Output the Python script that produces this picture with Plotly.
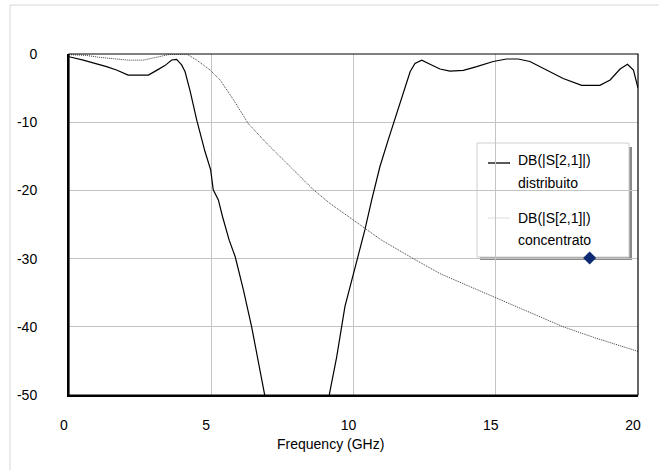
import plotly.graph_objects as go

# --- data ---
freq_dist = [0.0, 0.5, 1.32, 1.67, 2.08, 2.79, 3.08, 3.37, 3.61, 3.78, 3.96, 4.08, 4.25,
             4.49, 4.78, 4.98, 5.07, 5.25, 5.4, 5.63, 5.84, 6.13, 6.42, 6.65, 6.89,
             7.2, 8.0, 8.9,
             9.17, 9.41, 9.7, 10.0, 10.29, 10.4, 10.64, 10.93, 11.22, 11.52, 11.75, 11.99,
             12.16, 12.4, 12.69, 13.04, 13.39, 13.86, 14.33, 14.91, 15.38, 15.79, 16.2,
             16.79, 17.37, 18.02, 18.66, 19.02, 19.37, 19.63, 19.84, 20.0]
s21_dist = [-0.4, -0.9, -1.86, -2.35, -3.1, -3.1, -2.4, -1.7, -0.88, -0.78, -1.6, -2.6, -5.3,
            -9.7, -14.3, -17.0, -19.9, -21.4, -23.9, -27.3, -29.7, -34.6, -40.0, -44.9, -50.0,
            -57.0, -70.0, -56.0,
            -49.5, -44.4, -37.0, -32.2, -27.3, -25.8, -21.4, -16.5, -12.6, -8.7, -5.8, -2.6,
            -1.4, -0.9, -1.5, -2.2, -2.5, -2.4, -1.86, -1.1, -0.73, -0.73, -1.1,
            -2.4, -3.6, -4.6, -4.6, -3.8, -2.2, -1.5, -2.35, -5.0]

freq_conc = [0.0, 0.6, 1.09, 2.08, 2.61, 3.08, 3.55, 4.14, 4.49, 4.96, 5.31, 5.78, 6.3,
             6.95, 7.65, 8.59, 9.17, 10.34, 10.99, 12.1, 13.04, 14.09, 15.03, 15.97,
             17.37, 18.55, 20.0]
s21_conc = [-0.1, -0.2, -0.5, -0.9, -0.9, -0.5, -0.05, 0.0, -0.9, -2.35, -3.8, -6.7, -10.2,
            -13.1, -16.0, -19.9, -21.9, -25.3, -27.3, -30.0, -32.2, -34.1, -35.8, -37.5,
            -40.0, -41.7, -43.6]

marker_x = [18.3]
marker_y = [-29.9]

x_ticks = [0, 5, 10, 15, 20]
y_ticks = [0, -10, -20, -30, -40, -50]

legend_lines = ["DB(|S[2,1]|)", "distribuito", "DB(|S[2,1]|)", "concentrato"]
x_title = "Frequency (GHz)"

FONT = "Liberation Sans, Arial, sans-serif"

# layout geometry (pixels)
W, H = 659, 470
L, R, T, B = 69, 638, 54, 395


def px(xp):
    return (xp - L) / (R - L)


def py(yp):
    return (B - yp) / (B - T)


fig = go.Figure()
fig.add_trace(go.Scatter(x=freq_dist, y=s21_dist, mode="lines",
                         line=dict(color="black", width=1.2), showlegend=False))
fig.add_trace(go.Scatter(x=freq_conc, y=s21_conc, mode="lines",
                         line=dict(color="#3a3a3a", width=1, dash="1px,1px"), showlegend=False))
fig.add_trace(go.Scatter(x=marker_x, y=marker_y, mode="markers",
                         marker=dict(symbol="diamond", size=10, color="#0d2a72"),
                         showlegend=False, cliponaxis=False))

shapes = []
# outer light frame
shapes.append(dict(type="rect", xref="paper", yref="paper",
                   x0=px(10), x1=px(700), y0=py(520), y1=py(5),
                   line=dict(color="#d6d6d6", width=1), fillcolor="rgba(0,0,0,0)", layer="below"))
# legend shadow
shapes.append(dict(type="rect", xref="paper", yref="paper",
                   x0=px(480), x1=px(632), y0=py(260), y1=py(147),
                   line=dict(width=0), fillcolor="#8a8a8a", layer="between"))
# legend box
shapes.append(dict(type="rect", xref="paper", yref="paper",
                   x0=px(477), x1=px(629), y0=py(257), y1=py(143),
                   line=dict(color="#d0d0d0", width=1), fillcolor="white", layer="between"))
# legend samples
shapes.append(dict(type="line", xref="paper", yref="paper",
                   x0=px(488), x1=px(510), y0=py(163), y1=py(163),
                   line=dict(color="black", width=1.3), layer="between"))
shapes.append(dict(type="line", xref="paper", yref="paper",
                   x0=px(488), x1=px(510), y0=py(218), y1=py(218),
                   line=dict(color="#dcdcdc", width=1), layer="between"))
# plot frame
shapes.append(dict(type="rect", xref="paper", yref="paper", x0=0, x1=1, y0=0, y1=1,
                   line=dict(color="black", width=1.2), layer="above"))

annotations = []
for txt, yy in zip(legend_lines, [160, 183, 218, 240]):
    annotations.append(dict(text=txt, xref="paper", yref="paper", x=px(516), y=py(yy),
                            xanchor="left", yanchor="middle", showarrow=False,
                            font=dict(family=FONT, size=14, color="black")))
annotations.append(dict(text=x_title, xref="paper", yref="paper", x=px(330), y=py(444),
                        xanchor="center", yanchor="middle", showarrow=False,
                        font=dict(family=FONT, size=14, color="black")))

fig.update_layout(
    width=W, height=H,
    margin=dict(l=L, r=W - R, t=T, b=H - B, pad=0),
    paper_bgcolor="white", plot_bgcolor="white",
    font=dict(family=FONT, size=14, color="black"),
    shapes=shapes, annotations=annotations, showlegend=False,
)
fig.update_xaxes(range=[0, 20], tickvals=x_ticks, ticktext=[str(v) for v in x_ticks],
                 showgrid=True, gridcolor="#c4c4c4", gridwidth=1, zeroline=False,
                 showline=True, linecolor="black", linewidth=2,
                 ticks="", ticklabelstandoff=16, ticklabelshift=-5,
                 tickfont=dict(family=FONT, size=14, color="black"))
fig.update_yaxes(range=[-50, 0], tickvals=y_ticks, ticktext=[str(v) for v in y_ticks],
                 showgrid=True, gridcolor="#c4c4c4", gridwidth=1, zeroline=False,
                 showline=True, linecolor="black", linewidth=2,
                 ticks="", ticklabelstandoff=27,
                 tickfont=dict(family=FONT, size=14, color="black"))

fig.write_html("out.html", config={"displayModeBar": False},
               post_script="document.body.style.margin='0';document.body.style.overflow='hidden';")
